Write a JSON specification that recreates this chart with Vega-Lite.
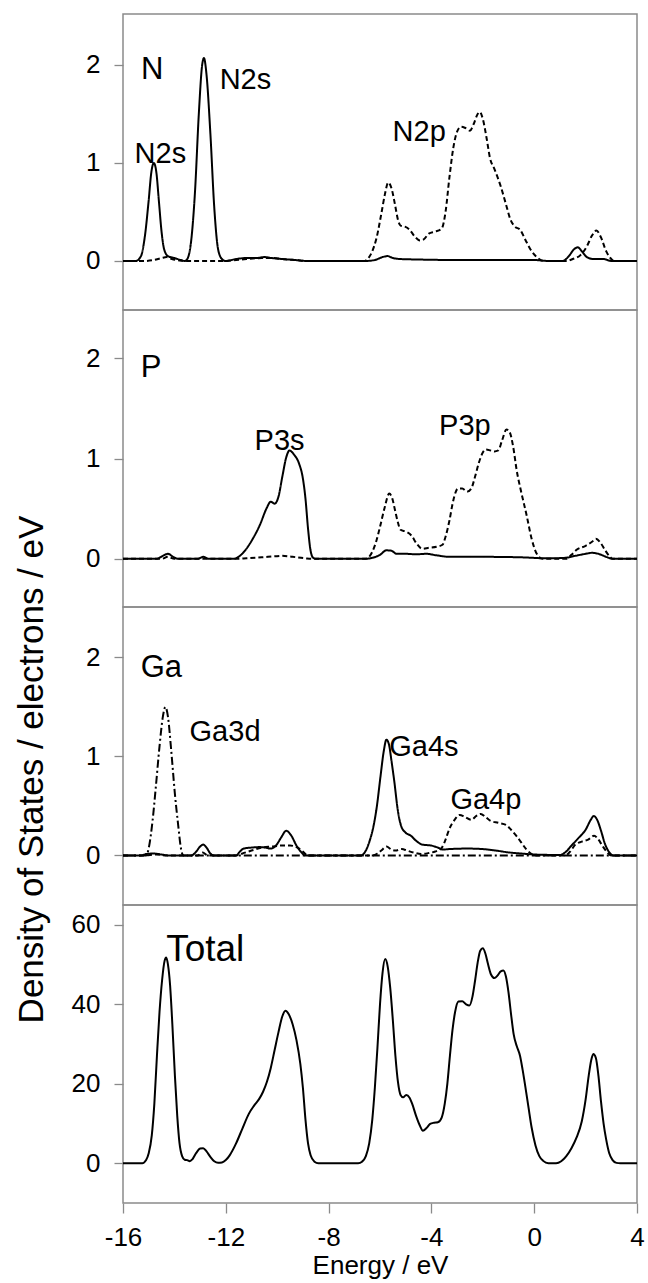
{
  "$schema": "https://vega.github.io/schema/vega-lite/v6.json",
  "background": "white",
  "padding": {"left": 13, "top": 13, "right": 0, "bottom": 0},
  "spacing": 0,
  "bounds": "flush",
  "config": {
    "font": "Liberation Sans",
    "view": {"stroke": "#8a8a8a", "strokeWidth": 1.5},
    "axis": {
      "domain": false, "grid": false, "tickColor": "#8a8a8a", "tickWidth": 1.3, "tickSize": 9,
      "labelFont": "Liberation Sans", "labelFontSize": 26, "labelColor": "black", "labelPadding": 14,
      "labelFlush": false, "labelOverlap": false, "labelBound": false,
      "titleFont": "Liberation Sans", "titleFontWeight": "normal", "titleColor": "black"
    },
    "text": {"font": "Liberation Sans", "color": "black"},
    "line": {"color": "black", "strokeWidth": 2, "interpolate": "monotone"}
  },
  "datasets": {
    "N": [
      {"E":-16,"v":0,"o":"s"},{"E":-15.5,"v":0,"o":"s"},{"E":-15.3,"v":0.05,"o":"s"},{"E":-15.15,"v":0.25,"o":"s"},{"E":-15.0,"v":0.62,"o":"s"},{"E":-14.9,"v":0.9,"o":"s"},{"E":-14.8,"v":1.0,"o":"s"},{"E":-14.7,"v":0.9,"o":"s"},{"E":-14.6,"v":0.6,"o":"s"},{"E":-14.5,"v":0.3,"o":"s"},{"E":-14.4,"v":0.12,"o":"s"},{"E":-14.25,"v":0.05,"o":"s"},{"E":-14.0,"v":0.03,"o":"s"},{"E":-13.75,"v":0.01,"o":"s"},{"E":-13.6,"v":0,"o":"s"},{"E":-13.5,"v":0.02,"o":"s"},{"E":-13.35,"v":0.2,"o":"s"},{"E":-13.2,"v":0.7,"o":"s"},{"E":-13.05,"v":1.5,"o":"s"},{"E":-12.92,"v":2.0,"o":"s"},{"E":-12.85,"v":2.07,"o":"s"},{"E":-12.75,"v":1.9,"o":"s"},{"E":-12.6,"v":1.3,"o":"s"},{"E":-12.45,"v":0.55,"o":"s"},{"E":-12.3,"v":0.12,"o":"s"},{"E":-12.15,"v":0.02,"o":"s"},{"E":-12.0,"v":0,"o":"s"},{"E":-11.6,"v":0.02,"o":"s"},{"E":-11.2,"v":0.03,"o":"s"},{"E":-10.8,"v":0.03,"o":"s"},{"E":-10.5,"v":0.04,"o":"s"},{"E":-10.2,"v":0.03,"o":"s"},{"E":-9.8,"v":0.02,"o":"s"},{"E":-9.3,"v":0.01,"o":"s"},{"E":-8.8,"v":0,"o":"s"},{"E":-6.6,"v":0,"o":"s"},{"E":-6.2,"v":0.01,"o":"s"},{"E":-5.9,"v":0.04,"o":"s"},{"E":-5.7,"v":0.05,"o":"s"},{"E":-5.5,"v":0.03,"o":"s"},{"E":-5.2,"v":0.02,"o":"s"},{"E":-4.5,"v":0.015,"o":"s"},{"E":-3,"v":0.01,"o":"s"},{"E":0,"v":0.01,"o":"s"},{"E":0.6,"v":0,"o":"s"},{"E":1.1,"v":0,"o":"s"},{"E":1.35,"v":0.05,"o":"s"},{"E":1.55,"v":0.12,"o":"s"},{"E":1.7,"v":0.14,"o":"s"},{"E":1.85,"v":0.1,"o":"s"},{"E":2.05,"v":0.04,"o":"s"},{"E":2.3,"v":0.02,"o":"s"},{"E":2.7,"v":0.02,"o":"s"},{"E":3.0,"v":0,"o":"s"},{"E":4,"v":0,"o":"s"},
      {"E":-16,"v":0,"o":"p"},{"E":-15.2,"v":0,"o":"p"},{"E":-14.8,"v":0.01,"o":"p"},{"E":-14.5,"v":0.03,"o":"p"},{"E":-14.3,"v":0.04,"o":"p"},{"E":-14.1,"v":0.02,"o":"p"},{"E":-13.8,"v":0.005,"o":"p"},{"E":-13.5,"v":0,"o":"p"},{"E":-12,"v":0,"o":"p"},{"E":-11.6,"v":0.01,"o":"p"},{"E":-11.2,"v":0.02,"o":"p"},{"E":-10.6,"v":0.03,"o":"p"},{"E":-10.2,"v":0.03,"o":"p"},{"E":-9.8,"v":0.02,"o":"p"},{"E":-9.3,"v":0.01,"o":"p"},{"E":-8.8,"v":0,"o":"p"},{"E":-6.6,"v":0,"o":"p"},{"E":-6.45,"v":0.03,"o":"p"},{"E":-6.3,"v":0.1,"o":"p"},{"E":-6.13,"v":0.24,"o":"p"},{"E":-5.95,"v":0.48,"o":"p"},{"E":-5.81,"v":0.68,"o":"p"},{"E":-5.68,"v":0.8,"o":"p"},{"E":-5.55,"v":0.74,"o":"p"},{"E":-5.42,"v":0.58,"o":"p"},{"E":-5.3,"v":0.42,"o":"p"},{"E":-5.2,"v":0.36,"o":"p"},{"E":-5.03,"v":0.35,"o":"p"},{"E":-4.85,"v":0.32,"o":"p"},{"E":-4.65,"v":0.25,"o":"p"},{"E":-4.45,"v":0.21,"o":"p"},{"E":-4.3,"v":0.22,"o":"p"},{"E":-4.1,"v":0.28,"o":"p"},{"E":-3.85,"v":0.3,"o":"p"},{"E":-3.6,"v":0.33,"o":"p"},{"E":-3.45,"v":0.5,"o":"p"},{"E":-3.3,"v":0.85,"o":"p"},{"E":-3.15,"v":1.15,"o":"p"},{"E":-3.0,"v":1.32,"o":"p"},{"E":-2.85,"v":1.37,"o":"p"},{"E":-2.7,"v":1.36,"o":"p"},{"E":-2.5,"v":1.33,"o":"p"},{"E":-2.35,"v":1.4,"o":"p"},{"E":-2.2,"v":1.5,"o":"p"},{"E":-2.12,"v":1.52,"o":"p"},{"E":-2.0,"v":1.45,"o":"p"},{"E":-1.85,"v":1.25,"o":"p"},{"E":-1.72,"v":1.05,"o":"p"},{"E":-1.55,"v":0.94,"o":"p"},{"E":-1.3,"v":0.76,"o":"p"},{"E":-1.1,"v":0.58,"o":"p"},{"E":-0.92,"v":0.42,"o":"p"},{"E":-0.75,"v":0.35,"o":"p"},{"E":-0.55,"v":0.32,"o":"p"},{"E":-0.35,"v":0.22,"o":"p"},{"E":-0.15,"v":0.12,"o":"p"},{"E":0.1,"v":0.04,"o":"p"},{"E":0.35,"v":0,"o":"p"},{"E":1.25,"v":0,"o":"p"},{"E":1.5,"v":0.02,"o":"p"},{"E":1.8,"v":0.06,"o":"p"},{"E":2.05,"v":0.15,"o":"p"},{"E":2.25,"v":0.26,"o":"p"},{"E":2.42,"v":0.31,"o":"p"},{"E":2.6,"v":0.24,"o":"p"},{"E":2.8,"v":0.1,"o":"p"},{"E":3.0,"v":0.02,"o":"p"},{"E":3.1,"v":0,"o":"p"},{"E":4,"v":0,"o":"p"}
    ],
    "P": [
      {"E":-16,"v":0,"o":"s"},{"E":-14.7,"v":0,"o":"s"},{"E":-14.45,"v":0.03,"o":"s"},{"E":-14.25,"v":0.05,"o":"s"},{"E":-14.05,"v":0.02,"o":"s"},{"E":-13.85,"v":0,"o":"s"},{"E":-13.1,"v":0,"o":"s"},{"E":-12.88,"v":0.02,"o":"s"},{"E":-12.65,"v":0,"o":"s"},{"E":-11.7,"v":0,"o":"s"},{"E":-11.45,"v":0.03,"o":"s"},{"E":-11.2,"v":0.1,"o":"s"},{"E":-10.95,"v":0.2,"o":"s"},{"E":-10.67,"v":0.34,"o":"s"},{"E":-10.42,"v":0.5,"o":"s"},{"E":-10.25,"v":0.57,"o":"s"},{"E":-10.1,"v":0.55,"o":"s"},{"E":-9.95,"v":0.62,"o":"s"},{"E":-9.8,"v":0.82,"o":"s"},{"E":-9.65,"v":1.01,"o":"s"},{"E":-9.52,"v":1.08,"o":"s"},{"E":-9.35,"v":1.04,"o":"s"},{"E":-9.15,"v":0.95,"o":"s"},{"E":-9.0,"v":0.8,"o":"s"},{"E":-8.9,"v":0.6,"o":"s"},{"E":-8.8,"v":0.3,"o":"s"},{"E":-8.7,"v":0.08,"o":"s"},{"E":-8.6,"v":0.01,"o":"s"},{"E":-8.5,"v":0,"o":"s"},{"E":-6.6,"v":0,"o":"s"},{"E":-6.3,"v":0.01,"o":"s"},{"E":-6.0,"v":0.04,"o":"s"},{"E":-5.75,"v":0.085,"o":"s"},{"E":-5.55,"v":0.08,"o":"s"},{"E":-5.35,"v":0.05,"o":"s"},{"E":-5.0,"v":0.05,"o":"s"},{"E":-4.6,"v":0.045,"o":"s"},{"E":-4.2,"v":0.05,"o":"s"},{"E":-3.8,"v":0.035,"o":"s"},{"E":-3.3,"v":0.02,"o":"s"},{"E":-2,"v":0.02,"o":"s"},{"E":-0.5,"v":0.015,"o":"s"},{"E":0.5,"v":0.005,"o":"s"},{"E":1.2,"v":0.01,"o":"s"},{"E":1.6,"v":0.03,"o":"s"},{"E":2.0,"v":0.05,"o":"s"},{"E":2.25,"v":0.06,"o":"s"},{"E":2.5,"v":0.05,"o":"s"},{"E":2.8,"v":0.02,"o":"s"},{"E":3.05,"v":0,"o":"s"},{"E":4,"v":0,"o":"s"},
      {"E":-16,"v":0,"o":"p"},{"E":-14.5,"v":0,"o":"p"},{"E":-14.25,"v":0.02,"o":"p"},{"E":-14.0,"v":0,"o":"p"},{"E":-11.6,"v":0,"o":"p"},{"E":-11.2,"v":0.005,"o":"p"},{"E":-10.6,"v":0.015,"o":"p"},{"E":-10.1,"v":0.025,"o":"p"},{"E":-9.8,"v":0.03,"o":"p"},{"E":-9.4,"v":0.02,"o":"p"},{"E":-8.9,"v":0.005,"o":"p"},{"E":-8.6,"v":0,"o":"p"},{"E":-6.6,"v":0,"o":"p"},{"E":-6.47,"v":0.01,"o":"p"},{"E":-6.3,"v":0.07,"o":"p"},{"E":-6.14,"v":0.18,"o":"p"},{"E":-5.98,"v":0.34,"o":"p"},{"E":-5.82,"v":0.51,"o":"p"},{"E":-5.64,"v":0.65,"o":"p"},{"E":-5.52,"v":0.6,"o":"p"},{"E":-5.42,"v":0.49,"o":"p"},{"E":-5.3,"v":0.36,"o":"p"},{"E":-5.2,"v":0.29,"o":"p"},{"E":-4.98,"v":0.27,"o":"p"},{"E":-4.77,"v":0.23,"o":"p"},{"E":-4.57,"v":0.15,"o":"p"},{"E":-4.35,"v":0.1,"o":"p"},{"E":-4.1,"v":0.11,"o":"p"},{"E":-3.8,"v":0.12,"o":"p"},{"E":-3.57,"v":0.14,"o":"p"},{"E":-3.45,"v":0.22,"o":"p"},{"E":-3.3,"v":0.38,"o":"p"},{"E":-3.15,"v":0.58,"o":"p"},{"E":-2.97,"v":0.7,"o":"p"},{"E":-2.8,"v":0.7,"o":"p"},{"E":-2.6,"v":0.67,"o":"p"},{"E":-2.45,"v":0.7,"o":"p"},{"E":-2.3,"v":0.82,"o":"p"},{"E":-2.15,"v":0.96,"o":"p"},{"E":-2.0,"v":1.06,"o":"p"},{"E":-1.87,"v":1.09,"o":"p"},{"E":-1.7,"v":1.08,"o":"p"},{"E":-1.55,"v":1.07,"o":"p"},{"E":-1.4,"v":1.08,"o":"p"},{"E":-1.25,"v":1.18,"o":"p"},{"E":-1.08,"v":1.29,"o":"p"},{"E":-0.95,"v":1.26,"o":"p"},{"E":-0.82,"v":1.12,"o":"p"},{"E":-0.68,"v":0.88,"o":"p"},{"E":-0.5,"v":0.66,"o":"p"},{"E":-0.3,"v":0.44,"o":"p"},{"E":-0.1,"v":0.2,"o":"p"},{"E":0.1,"v":0.05,"o":"p"},{"E":0.33,"v":0,"o":"p"},{"E":1.25,"v":0,"o":"p"},{"E":1.45,"v":0.04,"o":"p"},{"E":1.65,"v":0.09,"o":"p"},{"E":2.0,"v":0.13,"o":"p"},{"E":2.25,"v":0.17,"o":"p"},{"E":2.4,"v":0.2,"o":"p"},{"E":2.58,"v":0.16,"o":"p"},{"E":2.75,"v":0.09,"o":"p"},{"E":2.95,"v":0.02,"o":"p"},{"E":3.05,"v":0,"o":"p"},{"E":4,"v":0,"o":"p"}
    ],
    "Ga": [
      {"E":-16,"v":0,"o":"d"},{"E":-15.1,"v":0,"o":"d"},{"E":-14.98,"v":0.1,"o":"d"},{"E":-14.85,"v":0.35,"o":"d"},{"E":-14.72,"v":0.7,"o":"d"},{"E":-14.58,"v":1.1,"o":"d"},{"E":-14.45,"v":1.4,"o":"d"},{"E":-14.35,"v":1.5,"o":"d"},{"E":-14.25,"v":1.4,"o":"d"},{"E":-14.12,"v":1.05,"o":"d"},{"E":-13.98,"v":0.62,"o":"d"},{"E":-13.85,"v":0.3,"o":"d"},{"E":-13.75,"v":0.08,"o":"d"},{"E":-13.65,"v":0,"o":"d"},{"E":-8,"v":0,"o":"d"},{"E":4,"v":0,"o":"d"},
      {"E":-16,"v":0,"o":"s"},{"E":-15.3,"v":0,"o":"s"},{"E":-15.1,"v":0.015,"o":"s"},{"E":-14.8,"v":0.02,"o":"s"},{"E":-14.5,"v":0.01,"o":"s"},{"E":-14.2,"v":0,"o":"s"},{"E":-13.35,"v":0,"o":"s"},{"E":-13.15,"v":0.04,"o":"s"},{"E":-13.0,"v":0.09,"o":"s"},{"E":-12.88,"v":0.11,"o":"s"},{"E":-12.75,"v":0.08,"o":"s"},{"E":-12.6,"v":0.02,"o":"s"},{"E":-12.45,"v":0,"o":"s"},{"E":-11.6,"v":0,"o":"s"},{"E":-11.45,"v":0.04,"o":"s"},{"E":-11.3,"v":0.07,"o":"s"},{"E":-11.0,"v":0.08,"o":"s"},{"E":-10.7,"v":0.085,"o":"s"},{"E":-10.45,"v":0.08,"o":"s"},{"E":-10.25,"v":0.07,"o":"s"},{"E":-10.05,"v":0.1,"o":"s"},{"E":-9.85,"v":0.18,"o":"s"},{"E":-9.65,"v":0.25,"o":"s"},{"E":-9.45,"v":0.2,"o":"s"},{"E":-9.25,"v":0.1,"o":"s"},{"E":-9.05,"v":0.03,"o":"s"},{"E":-8.9,"v":0,"o":"s"},{"E":-6.75,"v":0,"o":"s"},{"E":-6.55,"v":0.05,"o":"s"},{"E":-6.4,"v":0.15,"o":"s"},{"E":-6.25,"v":0.3,"o":"s"},{"E":-6.12,"v":0.5,"o":"s"},{"E":-5.98,"v":0.8,"o":"s"},{"E":-5.85,"v":1.06,"o":"s"},{"E":-5.75,"v":1.17,"o":"s"},{"E":-5.65,"v":1.12,"o":"s"},{"E":-5.55,"v":0.95,"o":"s"},{"E":-5.43,"v":0.72,"o":"s"},{"E":-5.32,"v":0.48,"o":"s"},{"E":-5.18,"v":0.3,"o":"s"},{"E":-5.0,"v":0.23,"o":"s"},{"E":-4.8,"v":0.2,"o":"s"},{"E":-4.6,"v":0.15,"o":"s"},{"E":-4.35,"v":0.11,"o":"s"},{"E":-4.0,"v":0.1,"o":"s"},{"E":-3.75,"v":0.08,"o":"s"},{"E":-3.55,"v":0.06,"o":"s"},{"E":-3.3,"v":0.065,"o":"s"},{"E":-2.6,"v":0.07,"o":"s"},{"E":-2.0,"v":0.065,"o":"s"},{"E":-1.5,"v":0.05,"o":"s"},{"E":-0.95,"v":0.03,"o":"s"},{"E":-0.5,"v":0.02,"o":"s"},{"E":0,"v":0.01,"o":"s"},{"E":1.0,"v":0.005,"o":"s"},{"E":1.2,"v":0.03,"o":"s"},{"E":1.45,"v":0.1,"o":"s"},{"E":1.7,"v":0.17,"o":"s"},{"E":2.0,"v":0.26,"o":"s"},{"E":2.2,"v":0.36,"o":"s"},{"E":2.32,"v":0.4,"o":"s"},{"E":2.45,"v":0.36,"o":"s"},{"E":2.6,"v":0.25,"o":"s"},{"E":2.75,"v":0.12,"o":"s"},{"E":2.9,"v":0.04,"o":"s"},{"E":3.1,"v":0,"o":"s"},{"E":4,"v":0,"o":"s"},
      {"E":-16,"v":0,"o":"p"},{"E":-15.2,"v":0,"o":"p"},{"E":-14.7,"v":0.01,"o":"p"},{"E":-14.3,"v":0,"o":"p"},{"E":-13.1,"v":0,"o":"p"},{"E":-12.9,"v":0.03,"o":"p"},{"E":-12.7,"v":0,"o":"p"},{"E":-11.6,"v":0,"o":"p"},{"E":-11.35,"v":0.02,"o":"p"},{"E":-11.0,"v":0.05,"o":"p"},{"E":-10.6,"v":0.08,"o":"p"},{"E":-10.2,"v":0.09,"o":"p"},{"E":-9.85,"v":0.1,"o":"p"},{"E":-9.5,"v":0.1,"o":"p"},{"E":-9.2,"v":0.08,"o":"p"},{"E":-9.0,"v":0.04,"o":"p"},{"E":-8.8,"v":0,"o":"p"},{"E":-6.3,"v":0,"o":"p"},{"E":-6.1,"v":0.02,"o":"p"},{"E":-5.95,"v":0.05,"o":"p"},{"E":-5.75,"v":0.09,"o":"p"},{"E":-5.55,"v":0.06,"o":"p"},{"E":-5.4,"v":0.05,"o":"p"},{"E":-5.15,"v":0.065,"o":"p"},{"E":-4.95,"v":0.05,"o":"p"},{"E":-4.7,"v":0.03,"o":"p"},{"E":-4.4,"v":0.015,"o":"p"},{"E":-4.1,"v":0.025,"o":"p"},{"E":-3.85,"v":0.04,"o":"p"},{"E":-3.62,"v":0.07,"o":"p"},{"E":-3.45,"v":0.16,"o":"p"},{"E":-3.3,"v":0.27,"o":"p"},{"E":-3.1,"v":0.36,"o":"p"},{"E":-2.9,"v":0.41,"o":"p"},{"E":-2.7,"v":0.39,"o":"p"},{"E":-2.45,"v":0.36,"o":"p"},{"E":-2.25,"v":0.4,"o":"p"},{"E":-2.08,"v":0.42,"o":"p"},{"E":-1.9,"v":0.39,"o":"p"},{"E":-1.7,"v":0.35,"o":"p"},{"E":-1.4,"v":0.33,"o":"p"},{"E":-1.1,"v":0.31,"o":"p"},{"E":-0.9,"v":0.26,"o":"p"},{"E":-0.7,"v":0.2,"o":"p"},{"E":-0.5,"v":0.13,"o":"p"},{"E":-0.3,"v":0.06,"o":"p"},{"E":-0.1,"v":0.015,"o":"p"},{"E":0.05,"v":0,"o":"p"},{"E":1.2,"v":0,"o":"p"},{"E":1.4,"v":0.04,"o":"p"},{"E":1.6,"v":0.11,"o":"p"},{"E":1.85,"v":0.14,"o":"p"},{"E":2.1,"v":0.16,"o":"p"},{"E":2.33,"v":0.2,"o":"p"},{"E":2.5,"v":0.16,"o":"p"},{"E":2.65,"v":0.1,"o":"p"},{"E":2.85,"v":0.03,"o":"p"},{"E":3.0,"v":0,"o":"p"},{"E":4,"v":0,"o":"p"}
    ],
    "T": [
      {"E":-16,"v":0},{"E":-15.25,"v":0},{"E":-15.1,"v":0.8},{"E":-15.0,"v":2.5},{"E":-14.88,"v":7},{"E":-14.78,"v":15},{"E":-14.68,"v":27},{"E":-14.58,"v":38},{"E":-14.48,"v":46},{"E":-14.38,"v":51},{"E":-14.32,"v":51.8},{"E":-14.25,"v":50},{"E":-14.17,"v":45},{"E":-14.08,"v":35},{"E":-13.98,"v":22},{"E":-13.89,"v":12},{"E":-13.8,"v":5},{"E":-13.7,"v":1.8},{"E":-13.6,"v":0.9},{"E":-13.5,"v":0.8},{"E":-13.4,"v":0.5},{"E":-13.3,"v":1},{"E":-13.15,"v":2.6},{"E":-13.0,"v":3.7},{"E":-12.88,"v":3.8},{"E":-12.75,"v":3},{"E":-12.6,"v":1.6},{"E":-12.45,"v":0.5},{"E":-12.3,"v":0.1},{"E":-12.15,"v":0.2},{"E":-12.0,"v":0.8},{"E":-11.85,"v":2},{"E":-11.6,"v":5},{"E":-11.35,"v":8.8},{"E":-11.1,"v":12.5},{"E":-10.9,"v":14.5},{"E":-10.7,"v":16.2},{"E":-10.55,"v":18},{"E":-10.4,"v":20.5},{"E":-10.25,"v":24},{"E":-10.1,"v":28.5},{"E":-9.95,"v":33},{"E":-9.8,"v":37},{"E":-9.68,"v":38.4},{"E":-9.55,"v":37.5},{"E":-9.4,"v":35},{"E":-9.25,"v":31},{"E":-9.1,"v":25},{"E":-9.0,"v":19},{"E":-8.9,"v":11},{"E":-8.8,"v":5},{"E":-8.7,"v":2},{"E":-8.55,"v":0.4},{"E":-8.4,"v":0},{"E":-6.85,"v":0},{"E":-6.7,"v":0.4},{"E":-6.55,"v":1.8},{"E":-6.42,"v":5},{"E":-6.3,"v":11},{"E":-6.2,"v":19},{"E":-6.1,"v":29},{"E":-6.0,"v":40},{"E":-5.9,"v":48},{"E":-5.8,"v":51.4},{"E":-5.7,"v":49.5},{"E":-5.6,"v":44},{"E":-5.5,"v":36},{"E":-5.4,"v":27},{"E":-5.3,"v":20.4},{"E":-5.2,"v":17.2},{"E":-5.1,"v":16.6},{"E":-4.98,"v":17.2},{"E":-4.85,"v":16.5},{"E":-4.75,"v":15},{"E":-4.6,"v":12},{"E":-4.45,"v":9.5},{"E":-4.33,"v":8.2},{"E":-4.2,"v":8.8},{"E":-4.05,"v":9.9},{"E":-3.9,"v":10.2},{"E":-3.75,"v":10.3},{"E":-3.6,"v":11.5},{"E":-3.48,"v":15},{"E":-3.38,"v":20},{"E":-3.28,"v":27},{"E":-3.18,"v":33.5},{"E":-3.08,"v":38},{"E":-2.95,"v":40.7},{"E":-2.8,"v":40.8},{"E":-2.65,"v":40},{"E":-2.52,"v":39.7},{"E":-2.4,"v":42},{"E":-2.3,"v":46},{"E":-2.2,"v":50.5},{"E":-2.1,"v":53.5},{"E":-2.0,"v":54.1},{"E":-1.9,"v":52.8},{"E":-1.8,"v":50.2},{"E":-1.68,"v":47.5},{"E":-1.55,"v":46.6},{"E":-1.42,"v":47.3},{"E":-1.3,"v":48.3},{"E":-1.2,"v":48.5},{"E":-1.1,"v":47},{"E":-1.0,"v":43},{"E":-0.9,"v":37.5},{"E":-0.8,"v":32.5},{"E":-0.68,"v":29.5},{"E":-0.55,"v":27},{"E":-0.45,"v":23.5},{"E":-0.35,"v":19.5},{"E":-0.22,"v":14},{"E":-0.1,"v":9},{"E":0.05,"v":4.5},{"E":0.2,"v":1.8},{"E":0.35,"v":0.6},{"E":0.55,"v":0},{"E":0.85,"v":0},{"E":1.05,"v":0.5},{"E":1.25,"v":1.8},{"E":1.45,"v":3.8},{"E":1.65,"v":6.5},{"E":1.85,"v":10.5},{"E":2.0,"v":16},{"E":2.12,"v":22},{"E":2.22,"v":26},{"E":2.3,"v":27.5},{"E":2.4,"v":26.5},{"E":2.5,"v":22},{"E":2.6,"v":15.5},{"E":2.7,"v":10},{"E":2.8,"v":6},{"E":2.92,"v":2.5},{"E":3.05,"v":0.8},{"E":3.2,"v":0.1},{"E":3.35,"v":0},{"E":4,"v":0}
    ],
    "labels": [
      {"panel":"N","kind":"name","t":"N","E":-15.3,"v":1.86},
      {"panel":"N","kind":"peak","t":"N2s","E":-15.55,"v":1.0},
      {"panel":"N","kind":"peak","t":"N2s","E":-12.24,"v":1.75},
      {"panel":"N","kind":"peak","t":"N2p","E":-5.51,"v":1.22},
      {"panel":"P","kind":"name","t":"P","E":-15.31,"v":1.81},
      {"panel":"P","kind":"peak","t":"P3s","E":-10.88,"v":1.08},
      {"panel":"P","kind":"peak","t":"P3p","E":-3.7,"v":1.23},
      {"panel":"Ga","kind":"name","t":"Ga","E":-15.31,"v":1.8},
      {"panel":"Ga","kind":"peak","t":"Ga3d","E":-13.41,"v":1.16},
      {"panel":"Ga","kind":"peak","t":"Ga4s","E":-5.64,"v":1.01},
      {"panel":"Ga","kind":"peak","t":"Ga4p","E":-3.26,"v":0.47},
      {"panel":"T","kind":"name","t":"Total","E":-14.32,"v":51.0}
    ]
  },
  "vconcat": [
    {
      "width": 514, "height": 296,
      "encoding": {
        "x": {"field": "E", "type": "quantitative", "scale": {"domain": [-16, 4], "nice": false, "zero": false}, "axis": null},
        "y": {"field": "v", "type": "quantitative", "scale": {"domain": [-0.5, 2.52], "nice": false, "zero": false}, "axis": {"values": [0, 1, 2], "title": null}}
      },
      "layer": [
        {"data": {"name": "N"}, "mark": {"type": "line"},
         "encoding": {"strokeDash": {"field": "o", "type": "nominal", "scale": {"domain": ["s", "p", "d"], "range": [[1, 0], [5, 3], [8, 3, 2, 3]]}, "legend": null}}},
        {"data": {"name": "labels"}, "transform": [{"filter": "datum.panel === 'N' && datum.kind === 'name'"}],
         "mark": {"type": "text", "align": "left", "baseline": "alphabetic", "fontSize": 31}, "encoding": {"text": {"field": "t"}}},
        {"data": {"name": "labels"}, "transform": [{"filter": "datum.panel === 'N' && datum.kind === 'peak'"}],
         "mark": {"type": "text", "align": "left", "baseline": "alphabetic", "fontSize": 29}, "encoding": {"text": {"field": "t"}}}
      ]
    },
    {
      "width": 514, "height": 297,
      "encoding": {
        "x": {"field": "E", "type": "quantitative", "scale": {"domain": [-16, 4], "nice": false, "zero": false}, "axis": null},
        "y": {"field": "v", "type": "quantitative", "scale": {"domain": [-0.48, 2.48], "nice": false, "zero": false}, "axis": {"values": [0, 1, 2], "title": null}}
      },
      "layer": [
        {"data": {"name": "P"}, "mark": {"type": "line"},
         "encoding": {"strokeDash": {"field": "o", "type": "nominal", "scale": {"domain": ["s", "p", "d"], "range": [[1, 0], [5, 3], [8, 3, 2, 3]]}, "legend": null}}},
        {"data": {"name": "labels"}, "transform": [{"filter": "datum.panel === 'P' && datum.kind === 'name'"}],
         "mark": {"type": "text", "align": "left", "baseline": "alphabetic", "fontSize": 31}, "encoding": {"text": {"field": "t"}}},
        {"data": {"name": "labels"}, "transform": [{"filter": "datum.panel === 'P' && datum.kind === 'peak'"}],
         "mark": {"type": "text", "align": "left", "baseline": "alphabetic", "fontSize": 29}, "encoding": {"text": {"field": "t"}}}
      ]
    },
    {
      "width": 514, "height": 298,
      "encoding": {
        "x": {"field": "E", "type": "quantitative", "scale": {"domain": [-16, 4], "nice": false, "zero": false}, "axis": null},
        "y": {"field": "v", "type": "quantitative", "scale": {"domain": [-0.5, 2.51], "nice": false, "zero": false},
              "axis": {"values": [0, 1, 2], "title": "Density of States / electrons / eV", "titleFontSize": 35,
                       "titleAngle": -90, "titleAlign": "center", "titleBaseline": "alphabetic", "titleX": -81, "titleY": 162}}
      },
      "layer": [
        {"data": {"name": "Ga"}, "mark": {"type": "line"},
         "encoding": {"strokeDash": {"field": "o", "type": "nominal", "scale": {"domain": ["s", "p", "d"], "range": [[1, 0], [5, 3], [8, 3, 2, 3]]}, "legend": null}}},
        {"data": {"name": "labels"}, "transform": [{"filter": "datum.panel === 'Ga' && datum.kind === 'name'"}],
         "mark": {"type": "text", "align": "left", "baseline": "alphabetic", "fontSize": 31}, "encoding": {"text": {"field": "t"}}},
        {"data": {"name": "labels"}, "transform": [{"filter": "datum.panel === 'Ga' && datum.kind === 'peak'"}],
         "mark": {"type": "text", "align": "left", "baseline": "alphabetic", "fontSize": 29}, "encoding": {"text": {"field": "t"}}}
      ]
    },
    {
      "width": 514, "height": 298,
      "encoding": {
        "x": {"field": "E", "type": "quantitative", "scale": {"domain": [-16, 4], "nice": false, "zero": false},
              "axis": {"values": [-16, -12, -8, -4, 0, 4], "tickSize": 10, "labelPadding": 11, "labelExpr": "'' + datum.value",
                       "title": "Energy / eV", "titleFontSize": 26, "titlePadding": 2}},
        "y": {"field": "v", "type": "quantitative", "scale": {"domain": [-10, 65], "nice": false, "zero": false}, "axis": {"values": [0, 20, 40, 60], "title": null}}
      },
      "layer": [
        {"data": {"name": "T"}, "mark": {"type": "line"}},
        {"data": {"name": "labels"}, "transform": [{"filter": "datum.panel === 'T'"}],
         "mark": {"type": "text", "align": "left", "baseline": "alphabetic", "fontSize": 37}, "encoding": {"text": {"field": "t"}}}
      ]
    }
  ]
}
